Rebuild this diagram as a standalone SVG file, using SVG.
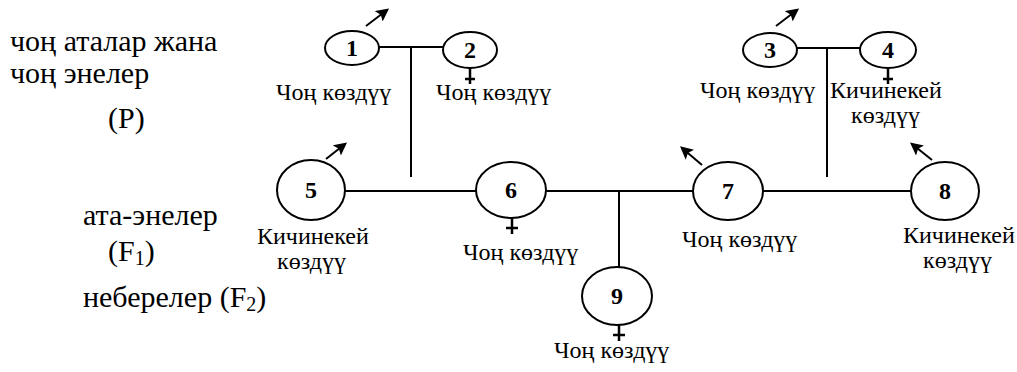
<svg xmlns="http://www.w3.org/2000/svg" width="1017" height="372" viewBox="0 0 1017 372">
  <style>
    .node { fill: #fff; stroke: #000; stroke-width: 2; }
    .line { stroke: #000; stroke-width: 2; fill: none; }
    .arrow { stroke: #000; stroke-width: 2; fill: none; marker-end: url(#head); }
    .plus { stroke: #000; stroke-width: 2.5; fill: none; }
  </style>
  <defs>
    <marker id="head" viewBox="0 0 10 10" refX="8" refY="5" markerWidth="6.5" markerHeight="6.5" orient="auto" markerUnits="strokeWidth">
      <path d="M0,0 L10,5 L0,10 L2,5 z" fill="#000"/>
    </marker>
  </defs>

  <!-- generation labels -->
  <g id="labels" font-family="Liberation Serif" font-size="30" fill="#000">
    <text x="10" y="51">чоң аталар жана</text>
    <text x="10" y="83">чоң энелер</text>
    <text x="108" y="128">(P)</text>
    <text x="83" y="225">ата-энелер</text>
    <text x="108" y="261">(F<tspan font-size="20" dy="4">1</tspan><tspan dy="-4">)</tspan></text>
    <text x="83" y="307">неберелер  (F<tspan font-size="20" dy="4">2</tspan><tspan dy="-4">)</tspan></text>
  </g>

  <!-- connectors -->
  <g id="connectors">
    <path class="line" d="M379,47 H443 M411,47 V177"/>
    <path class="line" d="M797,48 H860 M827,48 V177"/>
    <path class="line" d="M345,191 H476"/>
    <path class="line" d="M546,191 H693 M619,191 V267"/>
    <path class="line" d="M763,191 H911"/>
  </g>

  <g id="nodes" font-family="Liberation Serif" font-size="24" fill="#000">
    <g id="node1">
      <ellipse class="node" cx="352" cy="48" rx="27" ry="17"/>
      <text x="352" y="56" text-anchor="middle" font-weight="bold">1</text>
      <path class="arrow" d="M366,26 L387,10"/>
      <text x="276" y="100">Чоң көздүү</text>
    </g>
    <g id="node2">
      <ellipse class="node" cx="470" cy="50" rx="27" ry="18"/>
      <text x="470" y="58" text-anchor="middle" font-weight="bold">2</text>
      <path class="plus" d="M470,68 V84 M465,79 H475"/>
      <text x="436" y="100">Чоң көздүү</text>
    </g>
    <g id="node3">
      <ellipse class="node" cx="770" cy="50" rx="27" ry="17"/>
      <text x="770" y="58" text-anchor="middle" font-weight="bold">3</text>
      <path class="arrow" d="M776,26 L797,10"/>
      <text x="700" y="98">Чоң көздүү</text>
    </g>
    <g id="node4">
      <ellipse class="node" cx="888" cy="50" rx="28" ry="18"/>
      <text x="888" y="58" text-anchor="middle" font-weight="bold">4</text>
      <path class="plus" d="M888,68 V84 M883,79 H893"/>
      <text x="830" y="98">Кичинекей</text>
      <text x="851" y="123">көздүү</text>
    </g>
    <g id="node5">
      <ellipse class="node" cx="311" cy="190" rx="34" ry="30"/>
      <text x="311" y="198" text-anchor="middle" font-weight="bold">5</text>
      <path class="arrow" d="M326,159 L345,144"/>
      <text x="257" y="244">Кичинекей</text>
      <text x="277" y="269">көздүү</text>
    </g>
    <g id="node6">
      <ellipse class="node" cx="511" cy="190" rx="35" ry="28"/>
      <text x="511" y="198" text-anchor="middle" font-weight="bold">6</text>
      <path class="plus" d="M512,218 V234 M506,228 H518"/>
      <text x="463" y="260">Чоң көздүү</text>
    </g>
    <g id="node7">
      <ellipse class="node" cx="728" cy="191" rx="35" ry="29"/>
      <text x="728" y="199" text-anchor="middle" font-weight="bold">7</text>
      <path class="arrow" d="M702,165 L682,148"/>
      <text x="682" y="247">Чоң көздүү</text>
    </g>
    <g id="node8">
      <ellipse class="node" cx="945" cy="191" rx="34" ry="29"/>
      <text x="945" y="199" text-anchor="middle" font-weight="bold">8</text>
      <path class="arrow" d="M932,160 L912,144"/>
      <text x="903" y="243">Кичинекей</text>
      <text x="923" y="268">көздүү</text>
    </g>
    <g id="node9">
      <ellipse class="node" cx="617" cy="296" rx="35" ry="29"/>
      <text x="617" y="304" text-anchor="middle" font-weight="bold">9</text>
      <path class="plus" d="M619,325 V341 M613,335 H625"/>
      <text x="554" y="358">Чоң көздүү</text>
    </g>
  </g>
</svg>
